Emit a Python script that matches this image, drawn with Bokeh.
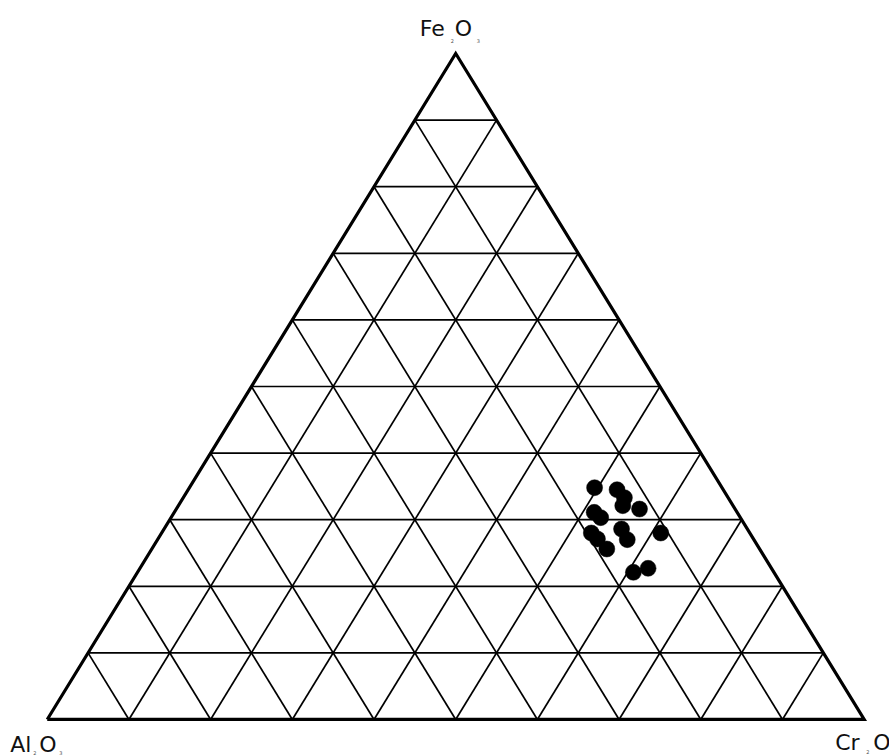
from bokeh.plotting import figure
from bokeh.models import Range1d
from bokeh.core.properties import value
from bokeh.embed import file_html
from bokeh.resources import INLINE

# ternary compositions (fractions)
fe2o3 = [0.348, 0.345, 0.333, 0.321, 0.316, 0.311, 0.303, 0.286, 0.280, 0.280, 0.271, 0.270, 0.256, 0.221, 0.227]
cr2o3 = [0.496, 0.525, 0.540, 0.544, 0.567, 0.514, 0.526, 0.560, 0.611, 0.526, 0.538, 0.575, 0.557, 0.607, 0.622]
al2o3 = [round(1 - f - c, 3) for f, c in zip(fe2o3, cr2o3)]

grid_levels = [0.1, 0.2, 0.3, 0.4, 0.5, 0.6, 0.7, 0.8, 0.9]

# vertex labels: (main part, subscript) pairs
top_label = [("Fe", "2"), ("O", "3")]
left_label = [("Al", "2"), ("O", "3")]
right_label = [("Cr", "2"), ("O", "3")]


def to_xy(fe, cr):
    return cr + fe / 2.0, fe


W, H = 889, 756
X0, X1, Y0, Y1 = -0.0572, 1.0310, -0.0556, 1.0796
SX = W / (X1 - X0)
SY = H / (Y1 - Y0)
p = figure(width=W, height=H, output_backend="svg", toolbar_location=None,
           min_border=0, outline_line_color=None,
           x_range=Range1d(X0, X1), y_range=Range1d(Y0, Y1))
p.axis.visible = False
p.grid.visible = False
p.background_fill_color = "white"
p.border_fill_color = "white"

xs, ys = [], []
for t in grid_levels:
    # constant Fe2O3
    a = to_xy(t, 0.0); b = to_xy(t, 1 - t)
    xs.append([a[0], b[0]]); ys.append([a[1], b[1]])
    # constant Cr2O3
    a = to_xy(0.0, t); b = to_xy(1 - t, t)
    xs.append([a[0], b[0]]); ys.append([a[1], b[1]])
    # constant Al2O3
    a = to_xy(0.0, 1 - t); b = to_xy(1 - t, 0.0)
    xs.append([a[0], b[0]]); ys.append([a[1], b[1]])
p.multi_line(xs, ys, line_color="black", line_width=1.7)

corners = [to_xy(0, 0), to_xy(0, 1), to_xy(1, 0), to_xy(0, 0)]
p.line([c[0] for c in corners], [c[1] for c in corners], line_color="black",
       line_width=3.2, line_join="miter")

px = [to_xy(f, c)[0] for f, c in zip(fe2o3, cr2o3)]
py = [to_xy(f, c)[1] for f, c in zip(fe2o3, cr2o3)]
p.scatter(px, py, size=16, fill_color="black", line_color="black", line_width=0.5)


def add_formula(vx, vy, parts, dx, dy, offsets, sub_dy):
    # dx, dy: pixel offset of the text from the vertex (dy positive = down)
    k = 0
    for main, sub in parts:
        p.text([vx + (dx + offsets[k]) / SX], [vy - dy / SY], text=[main],
               text_font=value("DejaVu Sans"), text_font_size="22px",
               text_color="#111111", text_baseline="alphabetic", text_align="left")
        p.text([vx + (dx + offsets[k + 1]) / SX], [vy - (dy + sub_dy) / SY], text=[sub],
               text_font=value("DejaVu Sans"), text_font_size="5px",
               text_color="#555555", text_baseline="alphabetic", text_align="left")
        k += 2


ax, ay = to_xy(1, 0)
add_formula(ax, ay, top_label, -36, -25, [0, 31, 35, 57], 12)
lx, ly = to_xy(0, 0)
add_formula(lx, ly, left_label, -37, 25, [0, 23, 29, 49], 9)
rx, ry = to_xy(0, 1)
add_formula(rx, ry, right_label, -29, 23, [0, 31, 38, 60], 10)

open("out.html", "w").write(file_html(p, INLINE))
